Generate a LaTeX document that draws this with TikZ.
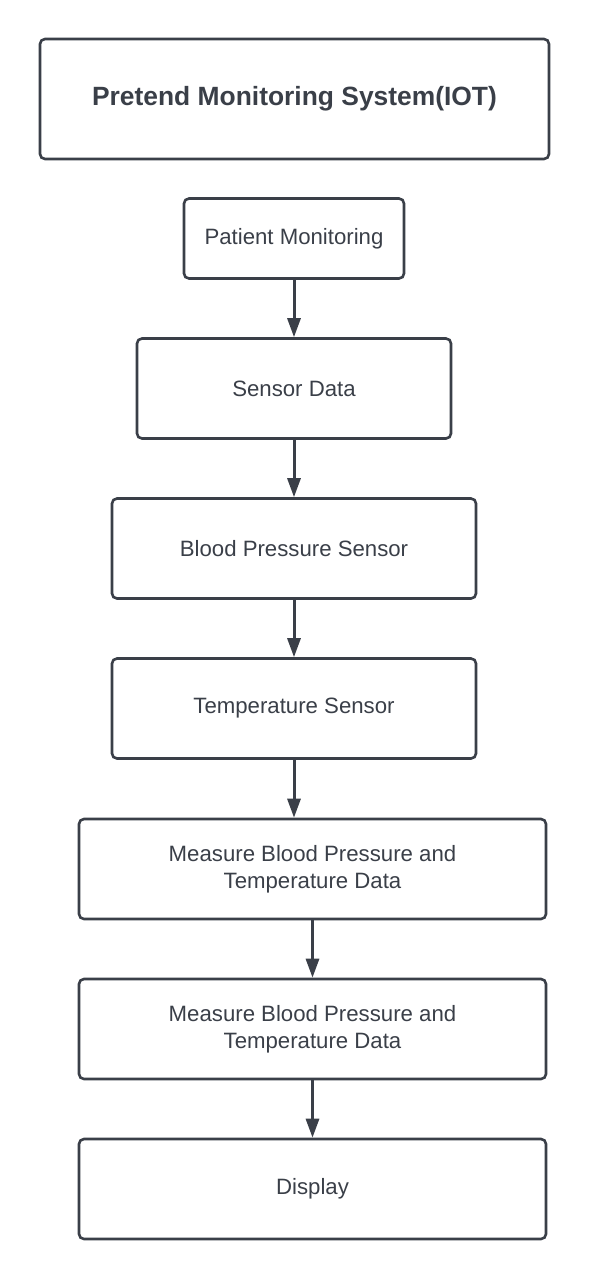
\documentclass[tikz,border=0pt]{standalone}
\usepackage{fontspec}
\setmainfont{Liberation Sans}
\usetikzlibrary{arrows.meta}
\definecolor{ink}{RGB}{58,63,72}

\begin{document}
\begin{tikzpicture}[x=1pt,y=-1pt,
    box/.style={draw=ink,line width=2.6pt,rounded corners=5pt,text=ink,font=\fontsize{22.2}{27}\selectfont,align=center,inner sep=0pt},
    arr/.style={draw=ink,line width=3pt,-{Triangle[length=19pt,width=13pt]}}]
  \useasboundingbox (0,0) rectangle (589,1280);

  \node[box,minimum width=509pt,minimum height=120pt,font=\fontsize{26.4}{30}\selectfont\bfseries] (title) at (294.5,99) {Pretend Monitoring System(IOT)};
  \node[box,minimum width=220pt,minimum height=80pt] (pm) at (294,238.5) {Patient Monitoring};
  \node[box,minimum width=314pt,minimum height=100pt] (sd) at (294,388.5) {Sensor Data};
  \node[box,minimum width=364pt,minimum height=100pt] (bp) at (294,548.5) {Blood Pressure Sensor};
  \node[box,minimum width=364pt,minimum height=100pt] (temp) at (294,708.5) {Temperature Sensor};
  \node[box,minimum width=467pt,minimum height=100pt] (m1) at (312.5,869) {Measure Blood Pressure and\\Temperature Data};
  \node[box,minimum width=467pt,minimum height=100pt] (m2) at (312.5,1029) {Measure Blood Pressure and\\Temperature Data};
  \node[box,minimum width=467pt,minimum height=100pt] (disp) at (312.5,1189) {Display};

  \foreach \a/\b in {pm/sd,sd/bp,bp/temp,temp/m1,m1/m2,m2/disp}
    \draw[arr] (\a.south) -- (\a.south |- \b.north);
\end{tikzpicture}
\end{document}
